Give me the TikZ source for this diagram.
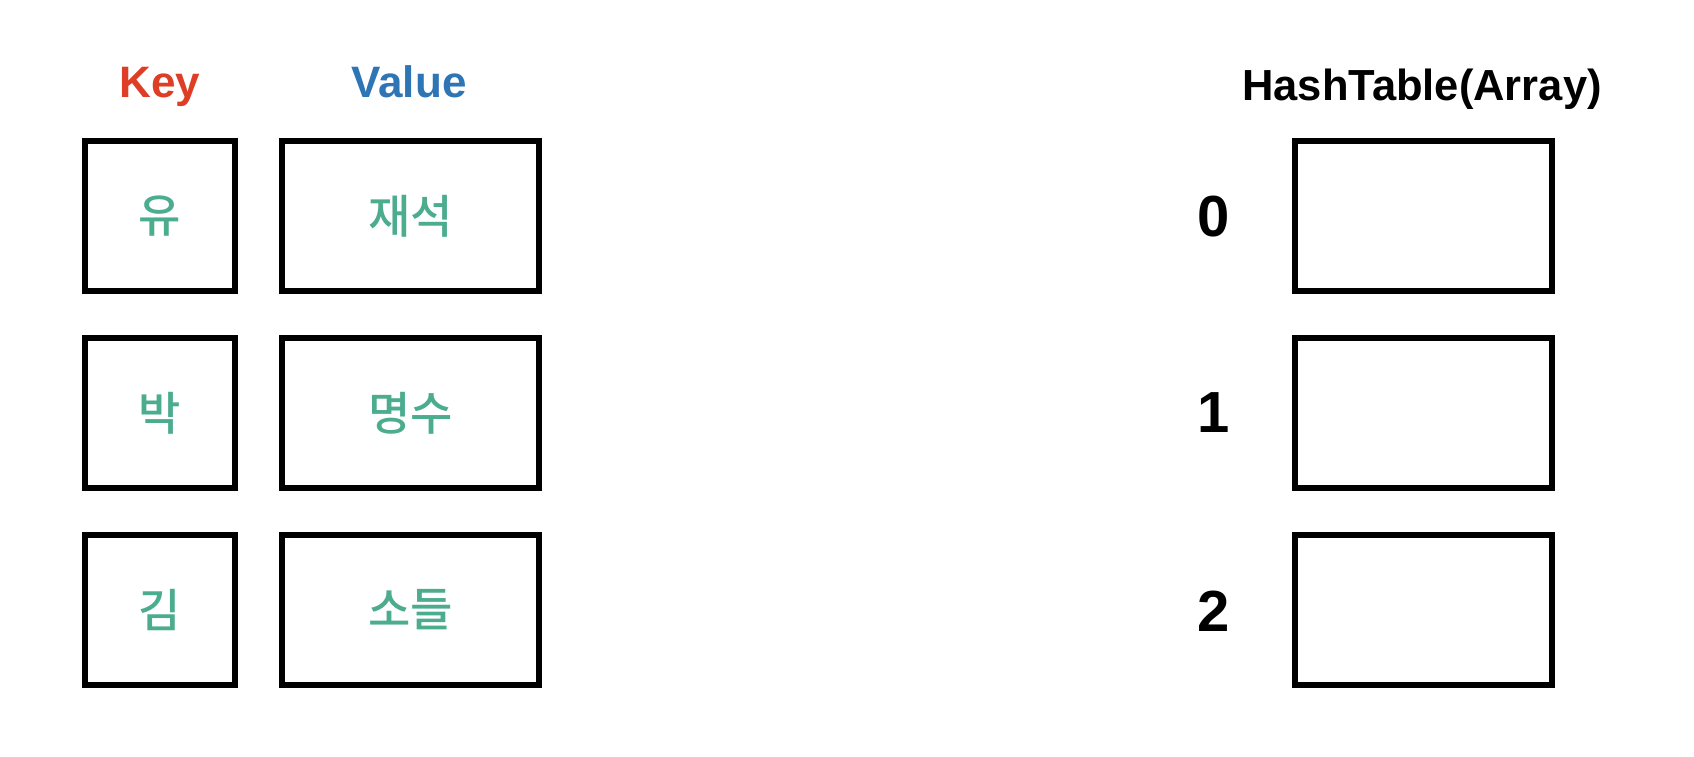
\documentclass[tikz,border=0pt]{standalone}
\usepackage{fontspec}
\setmainfont{Liberation Sans}
\newfontfamily\krfont{Noto Sans CJK KR Medium}
\usepackage{xcolor}
\usetikzlibrary{positioning}
\definecolor{keyred}{RGB}{222, 61, 38}
\definecolor{valueblue}{RGB}{46, 117, 182}
\definecolor{cellgreen}{RGB}{76, 172, 142}

\begin{document}
\begin{tikzpicture}[x=1pt, y=1pt,
    cell/.style={draw=black, line width=6pt, minimum height=150pt,
                 inner sep=0pt, text=cellgreen,
                 font=\krfont\fontsize{46}{46}\selectfont},
    keycell/.style={cell, minimum width=149.5pt},
    valuecell/.style={cell, minimum width=257pt},
    slot/.style={cell, minimum width=257pt},
    header/.style={anchor=base, inner sep=0pt,
                   font=\bfseries\fontsize{44}{44}\selectfont},
    index/.style={inner sep=0pt, font=\bfseries\fontsize{58}{58}\selectfont}
]
    \useasboundingbox (0,0) rectangle (1694,-756);

    \node[header, text=keyred] (keyhead) at (160,-97) {Key};
    \node[header, text=valueblue] (valuehead) at (409,-97) {Value};
    \node[header, font=\bfseries\fontsize{43.5}{43.5}\selectfont] (tablehead)
        at (1422,-100) {HashTable(Array)};

    \node[keycell] (key0) at (159.75,-216) {유};
    \node[keycell] (key1) at (159.75,-413) {박};
    \node[keycell] (key2) at (159.75,-610) {김};

    \node[valuecell] (value0) at (410.5,-216) {재석};
    \node[valuecell] (value1) at (410.5,-413) {명수};
    \node[valuecell] (value2) at (410.5,-610) {소들};

    \node[index] (idx0) at (1214,-217) {0};
    \node[index] (idx1) at (1214,-413) {1};
    \node[index] (idx2) at (1214,-611) {2};

    \node[slot] (slot0) at (1423.5,-216) {};
    \node[slot] (slot1) at (1423.5,-413) {};
    \node[slot] (slot2) at (1423.5,-610) {};
\end{tikzpicture}
\end{document}
